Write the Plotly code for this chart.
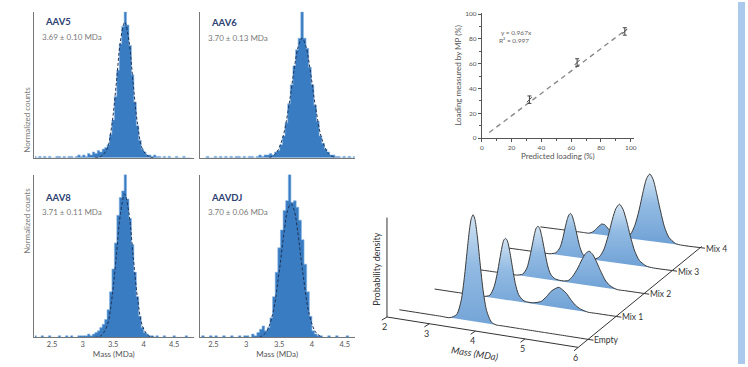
import numpy as np
import plotly.graph_objects as go

W, H = 748, 367

# ---------------- histogram data (normalized counts) ----------------
bin_centers = np.round(2.22 + 0.04 * np.arange(65), 2)

aav5_counts = [0.01, 0.00, 0.01, 0.00, 0.01, 0.00, 0.01, 0.00, 0.00, 0.01,
               0.01, 0.00, 0.01, 0.00, 0.01, 0.01, 0.00, 0.01, 0.02, 0.01,
               0.02, 0.01, 0.03, 0.02, 0.04, 0.03, 0.05, 0.04, 0.06, 0.07,
               0.09, 0.16, 0.26, 0.42, 0.60, 0.78, 0.90, 1.00, 0.91, 0.77,
               0.57, 0.38, 0.22, 0.12, 0.06, 0.04, 0.02, 0.02, 0.01, 0.02,
               0.01, 0.01, 0.00, 0.01, 0.00, 0.01, 0.00, 0.00, 0.01, 0.00,
               0.00, 0.01, 0.00, 0.00, 0.00]
aav6_counts = [0.00, 0.01, 0.00, 0.00, 0.01, 0.00, 0.01, 0.00, 0.01, 0.00,
               0.01, 0.00, 0.01, 0.01, 0.00, 0.01, 0.00, 0.01, 0.01, 0.00,
               0.01, 0.02, 0.01, 0.02, 0.02, 0.03, 0.02, 0.04, 0.05, 0.09,
               0.15, 0.24, 0.37, 0.50, 0.63, 0.74, 0.82, 1.00, 0.82, 0.75,
               0.62, 0.50, 0.36, 0.25, 0.15, 0.10, 0.06, 0.04, 0.02, 0.02,
               0.01, 0.01, 0.00, 0.01, 0.00, 0.01, 0.00, 0.01, 0.00, 0.00,
               0.01, 0.00, 0.00, 0.00, 0.00]
aav8_counts = [0.01, 0.00, 0.00, 0.01, 0.00, 0.00, 0.01, 0.00, 0.00, 0.00,
               0.01, 0.00, 0.00, 0.01, 0.00, 0.01, 0.00, 0.00, 0.01, 0.01,
               0.01, 0.01, 0.02, 0.01, 0.02, 0.03, 0.04, 0.06, 0.08, 0.11,
               0.17, 0.28, 0.42, 0.58, 0.75, 0.86, 0.90, 1.00, 0.85, 0.73,
               0.57, 0.40, 0.25, 0.13, 0.06, 0.03, 0.02, 0.01, 0.01, 0.00,
               0.01, 0.00, 0.00, 0.01, 0.00, 0.00, 0.00, 0.01, 0.00, 0.00,
               0.00, 0.00, 0.01, 0.00, 0.00]
aavdj_counts = [0.00, 0.01, 0.00, 0.01, 0.00, 0.00, 0.01, 0.00, 0.01, 0.00,
                0.00, 0.01, 0.00, 0.00, 0.01, 0.00, 0.00, 0.01, 0.00, 0.01,
                0.01, 0.00, 0.02, 0.01, 0.03, 0.05, 0.07, 0.04, 0.06, 0.12,
                0.25, 0.40, 0.55, 0.66, 0.78, 0.84, 1.00, 0.83, 0.84, 0.80,
                0.72, 0.60, 0.45, 0.28, 0.13, 0.04, 0.02, 0.01, 0.01, 0.00,
                0.00, 0.01, 0.00, 0.00, 0.01, 0.00, 0.00, 0.00, 0.01, 0.00,
                0.00, 0.00, 0.00, 0.00, 0.00]

# Gaussian fits
aav5_fit_x = [3.20, 3.30, 3.40, 3.48, 3.55, 3.62, 3.69, 3.76, 3.83, 3.90, 3.98, 4.08, 4.18]
aav5_fit_y = [0.00, 0.01, 0.06, 0.23, 0.50, 0.80, 0.93, 0.80, 0.50, 0.23, 0.06, 0.01, 0.00]
aav6_fit_x = [3.20, 3.30, 3.40, 3.50, 3.58, 3.64, 3.70, 3.76, 3.82, 3.90, 4.00, 4.10, 4.20]
aav6_fit_y = [0.00, 0.03, 0.13, 0.36, 0.61, 0.76, 0.82, 0.76, 0.61, 0.36, 0.13, 0.03, 0.00]
aav8_fit_x = [3.20, 3.30, 3.40, 3.48, 3.55, 3.62, 3.69, 3.76, 3.83, 3.90, 3.98, 4.08, 4.18]
aav8_fit_y = [0.00, 0.01, 0.07, 0.24, 0.49, 0.76, 0.88, 0.76, 0.49, 0.24, 0.07, 0.01, 0.00]
aavdj_fit_x = [3.20, 3.30, 3.40, 3.50, 3.58, 3.63, 3.68, 3.73, 3.78, 3.86, 3.96, 4.06, 4.16]
aavdj_fit_y = [0.00, 0.03, 0.14, 0.40, 0.66, 0.78, 0.82, 0.78, 0.66, 0.40, 0.14, 0.03, 0.00]

serotypes = ["AAV5", "AAV6", "AAV8", "AAVDJ"]
mass_stats = ["3.69 ± 0.10 MDa", "3.70 ± 0.13 MDa", "3.71 ± 0.11 MDa", "3.70 ± 0.06 MDa"]
mass_ticks = [2.5, 3.0, 3.5, 4.0, 4.5]

# ---------------- loading calibration ----------------
predicted_loading = [32, 64, 96]
measured_loading = [31, 61, 86]
measured_err = [3, 3, 3]
fit_line_x = [5, 97]
fit_line_y = [4.5, 87.5]
loading_ticks = [0, 20, 40, 60, 80, 100]

# ---------------- ridge (probability density) data ----------------
ridge_names = ["Empty", "Mix 1", "Mix 2", "Mix 3", "Mix 4"]
ridge_mass = [2.0, 2.6, 3.0, 3.2, 3.35, 3.45, 3.52, 3.58, 3.63, 3.67, 3.71, 3.75, 3.80,
              3.86, 3.93, 4.0, 4.1, 4.2, 4.3, 4.4, 4.5, 4.6, 4.7, 4.78, 4.86, 4.94,
              5.02, 5.1, 5.2, 5.3, 5.45, 5.6, 6.0]
dens_empty = [0, 0, 0, 0.00, 0.04, 0.18, 0.40, 0.65, 0.85, 0.96, 1.00, 0.96, 0.81,
              0.56, 0.29, 0.12, 0.02, 0.00, 0, 0, 0, 0, 0, 0, 0, 0,
              0, 0, 0, 0, 0, 0, 0]
dens_mix1 = [0, 0, 0, 0, 0.02, 0.11, 0.24, 0.39, 0.51, 0.58, 0.60, 0.58, 0.49,
             0.34, 0.17, 0.07, 0.02, 0.01, 0.01, 0.02, 0.04, 0.09, 0.15, 0.18, 0.20, 0.18,
             0.15, 0.10, 0.05, 0.02, 0, 0, 0]
dens_mix2 = [0, 0, 0, 0, 0.02, 0.09, 0.21, 0.34, 0.45, 0.51, 0.53, 0.51, 0.43,
             0.30, 0.15, 0.06, 0.02, 0.01, 0.01, 0.02, 0.07, 0.15, 0.25, 0.32, 0.35, 0.32,
             0.25, 0.17, 0.08, 0.03, 0.00, 0, 0]
dens_mix3 = [0, 0, 0, 0, 0.02, 0.08, 0.18, 0.30, 0.39, 0.44, 0.46, 0.44, 0.37,
             0.26, 0.13, 0.05, 0.01, 0.01, 0.01, 0.04, 0.12, 0.27, 0.46, 0.58, 0.63, 0.58,
             0.46, 0.31, 0.15, 0.06, 0.01, 0, 0]
dens_mix4 = [0, 0, 0, 0, 0.00, 0.02, 0.05, 0.08, 0.10, 0.12, 0.12, 0.12, 0.10,
             0.07, 0.03, 0.01, 0.00, 0.00, 0.02, 0.05, 0.15, 0.32, 0.54, 0.69, 0.75, 0.69,
             0.54, 0.37, 0.18, 0.07, 0.01, 0, 0]
ridge_dens = [dens_empty, dens_mix1, dens_mix2, dens_mix3, dens_mix4]
ridge_mass_ticks = [2, 3, 4, 5, 6]

# ---------------- styling ----------------
FONT = "Lato"
HIST_FILL = "#3a7cc1"
HIST_EDGE = "#86b5e4"
FIT_COL = "#1e3358"
AX_COL = "#777777"
TXT_GREY = "#7a7a7a"
NAVY = "#2e3f73"


def paper(x, y):
    return x / W, 1 - y / H


fig = go.Figure()

panels = [
    dict(xa="x", ya="y", px=(32, 193), py=(10, 158), xr=[2.2, 4.82], counts=aav5_counts,
         fx=aav5_fit_x, fy=aav5_fit_y, lab=True, tick=False, ytxt=(20, 35)),
    dict(xa="x2", ya="y2", px=(199, 355), py=(10, 158), xr=[2.14, 4.50], counts=aav6_counts,
         fx=aav6_fit_x, fy=aav6_fit_y, lab=False, tick=False, ytxt=(21, 36)),
    dict(xa="x3", ya="y3", px=(32, 193), py=(175, 340), xr=[2.2, 4.82], counts=aav8_counts,
         fx=aav8_fit_x, fy=aav8_fit_y, lab=True, tick=True, ytxt=(198, 213)),
    dict(xa="x4", ya="y4", px=(199, 355), py=(175, 340), xr=[2.29, 4.65], counts=aavdj_counts,
         fx=aavdj_fit_x, fy=aavdj_fit_y, lab=False, tick=True, ytxt=(198, 213)),
]

layout_axes = {}
annotations = []
for i, p in enumerate(panels):
    fig.add_trace(go.Scatter(x=bin_centers, y=p["counts"], mode="lines", line_shape="hvh",
                             fill="tozeroy", fillcolor=HIST_FILL,
                             line=dict(color=HIST_EDGE, width=0.6),
                             xaxis=p["xa"], yaxis=p["ya"], showlegend=False))
    fig.add_trace(go.Scatter(x=p["fx"], y=p["fy"], mode="lines", line_shape="spline",
                             line=dict(color=FIT_COL, width=1, dash="3px,2px"),
                             xaxis=p["xa"], yaxis=p["ya"], showlegend=False))
    sfx = "" if i == 0 else str(i + 1)
    layout_axes["xaxis" + sfx] = dict(
        domain=[p["px"][0] / W, p["px"][1] / W], range=p["xr"], anchor=p["ya"],
        showline=True, linecolor=AX_COL, linewidth=1, showgrid=False, zeroline=False,
        tickvals=mass_ticks if p["tick"] else [], ticks="",
        tickfont=dict(family=FONT, size=7.5, color="#555"),
        showticklabels=p["tick"],
        title=dict(text="Mass (MDa)", font=dict(family=FONT, size=8, color="#555"), standoff=1)
        if p["tick"] else None)
    layout_axes["yaxis" + sfx] = dict(
        domain=[1 - p["py"][1] / H, 1 - p["py"][0] / H], range=[0, 1.0], anchor=p["xa"],
        showline=True, linecolor=AX_COL, linewidth=1, showgrid=False, zeroline=False,
        showticklabels=False, ticks="")
    tx, ty = paper(p["px"][0] + 9, p["ytxt"][0])
    annotations.append(dict(x=tx, y=ty, xref="paper", yref="paper", text=serotypes[i],
                            showarrow=False, xanchor="left", yanchor="middle",
                            font=dict(family=FONT, size=9.5, color=NAVY, weight="bold")))
    tx, ty = paper(p["px"][0] + 6, p["ytxt"][1])
    annotations.append(dict(x=tx, y=ty, xref="paper", yref="paper", text=mass_stats[i],
                            showarrow=False, xanchor="left", yanchor="middle",
                            font=dict(family=FONT, size=8, color=TXT_GREY)))
    if p["lab"]:
        tx, ty = paper(18, (p["py"][0] + p["py"][1]) / 2)
        annotations.append(dict(x=tx, y=ty, xref="paper", yref="paper", text="Normalized counts",
                                showarrow=False, textangle=-90,
                                font=dict(family=FONT, size=8, color=TXT_GREY)))

# ---------------- scatter panel ----------------
fig.add_trace(go.Scatter(x=fit_line_x, y=fit_line_y, mode="lines",
                         line=dict(color="#8a8a8a", width=1.4, dash="5px,4px"),
                         xaxis="x5", yaxis="y5", showlegend=False))
fig.add_trace(go.Scatter(x=predicted_loading, y=measured_loading, mode="markers",
                         marker=dict(symbol="line-ne", size=5, line=dict(color="#444", width=1)),
                         error_y=dict(type="data", array=measured_err, color="#444",
                                      thickness=1, width=2),
                         xaxis="x5", yaxis="y5", showlegend=False))
layout_axes["xaxis5"] = dict(
    domain=[483 / W, 636 / W], range=[0, 102], anchor="y5", showline=True, linecolor="#555",
    showgrid=False, zeroline=False, tickvals=loading_ticks, ticks="outside", ticklen=3,
    tickcolor="#555", minor=dict(dtick=10, ticks="outside", ticklen=2, tickcolor="#555"),
    tickfont=dict(family=FONT, size=6.5, color="#555"),
    title=dict(text="Predicted loading (%)", font=dict(family=FONT, size=8, color="#555"),
               standoff=0))
layout_axes["yaxis5"] = dict(
    domain=[1 - 138 / H, 1 - 11 / H], range=[0, 101], anchor="x5", showline=True,
    linecolor="#555", showgrid=False, zeroline=False, tickvals=loading_ticks,
    ticks="outside", ticklen=3, tickcolor="#555",
    minor=dict(dtick=10, ticks="outside", ticklen=2, tickcolor="#555"),
    tickfont=dict(family=FONT, size=6.5, color="#555"),
    title=dict(text="Loading measured by MP (%)", font=dict(family=FONT, size=8, color="#555"),
               standoff=2))
for txt, (ax, ay) in zip(["y = 0.967x", "R² = 0.997"], [(500, 25), (498, 33)]):
    tx, ty = paper(ax, ay)
    annotations.append(dict(x=tx, y=ty, xref="paper", yref="paper", text=txt, showarrow=False,
                            xanchor="left", font=dict(family=FONT, size=6.5, color="#666")))


# ---------------- pseudo-3D ridge plot ----------------
def project(m, d, h=0.0):
    m = np.asarray(m, dtype=float)
    h = np.asarray(h, dtype=float)
    t = (m - 2.0) / 4.0
    f = 0.85 * t + 0.15 * t ** 2
    xl = 400 + 35.5 * d
    yl = 312 - 21 * d
    w = 190 - 7.25 * d
    dr = 30 - 2.25 * d
    return xl + f * w, yl + f * dr - h * 108 * (1 - 0.04 * d)


for d in range(len(ridge_names) - 1, -1, -1):
    xs, ys = project(ridge_mass, d, ridge_dens[d])
    fig.add_trace(go.Scatter(
        x=xs, y=ys, mode="lines", line_shape="spline",
        line=dict(color="#3a3a3a", width=1, smoothing=0.7),
        fill="toself", fillcolor="#8ab4de",
        fillgradient=dict(type="vertical",
                          colorscale=[[0, "#6c9fd4"], [0.6, "#93bbe3"], [1, "#d3e4f3"]]),
        xaxis="x6", yaxis="y6", showlegend=False))

AX3 = "#333333"
xa0, ya0 = project([2.0, 6.0], -0.35)
fig.add_trace(go.Scatter(x=xa0, y=ya0, mode="lines", line=dict(color=AX3, width=1),
                         xaxis="x6", yaxis="y6", showlegend=False))
xd0, yd0 = project(6.0, -0.35)
xd1, yd1 = project(6.0, 4.05)
fig.add_trace(go.Scatter(x=[xd0, xd1], y=[yd0, yd1], mode="lines", line=dict(color=AX3, width=1),
                         xaxis="x6", yaxis="y6", showlegend=False))
xv0, yv0 = project(2.0, -0.35, 0.0)
xv1, yv1 = project(2.0, -0.35, 0.92)
fig.add_trace(go.Scatter(x=[xv0, xv1], y=[yv0, yv1], mode="lines", line=dict(color=AX3, width=1),
                         xaxis="x6", yaxis="y6", showlegend=False))
tx_list, ty_list = [], []
for m in ridge_mass_ticks:
    a = project(m, -0.35)
    b = project(m, -0.5)
    tx_list += [float(a[0]), float(b[0]), None]
    ty_list += [float(a[1]), float(b[1]), None]
for d in range(len(ridge_names)):
    a = project(6.0, d)
    b = project(6.1, d)
    tx_list += [float(a[0]), float(b[0]), None]
    ty_list += [float(a[1]), float(b[1]), None]
fig.add_trace(go.Scatter(x=tx_list, y=ty_list, mode="lines", line=dict(color=AX3, width=1),
                         xaxis="x6", yaxis="y6", showlegend=False))

for m in ridge_mass_ticks:
    px, py = project(m, -0.35)
    annotations.append(dict(x=float(px) - 3, y=float(py) + 10, xref="x6", yref="y6",
                            text=str(m), showarrow=False,
                            font=dict(family=FONT, size=9, color="#333")))
for d, name in enumerate(ridge_names):
    px, py = project(6.0, d)
    annotations.append(dict(x=float(px) + 4, y=float(py) + 1, xref="x6", yref="y6",
                            text=name, showarrow=False, xanchor="left",
                            font=dict(family=FONT, size=8.5, color="#333")))
annotations.append(dict(x=476, y=356, xref="x6", yref="y6", text="<i>Mass (MDa)</i>",
                        showarrow=False, textangle=9,
                        font=dict(family=FONT, size=9.5, color="#333")))
annotations.append(dict(x=377, y=270, xref="x6", yref="y6", text="Probability density",
                        showarrow=False, textangle=-90,
                        font=dict(family=FONT, size=9, color="#333")))

layout_axes["xaxis6"] = dict(domain=[0, 1], range=[0, W], visible=False, anchor="y6",
                             fixedrange=True)
layout_axes["yaxis6"] = dict(domain=[0, 1], range=[H, 0], visible=False, anchor="x6",
                             fixedrange=True)

fig.update_layout(
    width=W, height=H, margin=dict(l=0, r=0, t=0, b=0, pad=0),
    paper_bgcolor="white", plot_bgcolor="rgba(0,0,0,0)",
    annotations=annotations, showlegend=False,
    shapes=[dict(type="rect", xref="paper", yref="paper", x0=741 / W, x1=1, y0=0, y1=1,
                 fillcolor="#aac9ed", line=dict(width=0), layer="below")],
    **layout_axes)

fig.write_html("out.html", config={"displayModeBar": False},
               post_script="document.body.style.margin='0';")
